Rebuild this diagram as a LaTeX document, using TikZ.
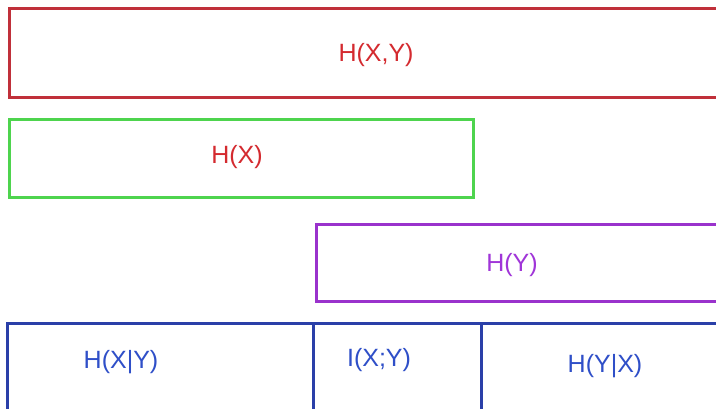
\documentclass[tikz,border=0pt]{standalone}
\usepackage{fontspec}
\setmainfont{Liberation Sans}
\definecolor{redline}{HTML}{C0303A}
\definecolor{redtext}{HTML}{D42A2F}
\definecolor{greenline}{HTML}{4ED44E}
\definecolor{purpleline}{HTML}{9A32CC}
\definecolor{purpletext}{HTML}{A035D8}
\definecolor{blueline}{HTML}{2A3FA8}
\definecolor{bluetext}{HTML}{2F4FC8}
\begin{document}
\begin{tikzpicture}[x=1pt,y=1pt,
  boxstyle/.style={line width=3pt},
  lbl/.style={font=\fontsize{25}{27}\selectfont, inner sep=0pt}]
\useasboundingbox (0,0) rectangle (716,409);
\clip (0,0) rectangle (716,409);
\fill[white] (0,0) rectangle (716,409);
% boxes
\draw[boxstyle, redline] (9,311) rectangle (717,400);
\draw[boxstyle, greenline] (9,211) rectangle (473,289);
\draw[boxstyle, purpleline] (316,107) rectangle (717,184);
\draw[boxstyle, blueline] (7,-20) rectangle (313,85);
\draw[boxstyle, blueline] (313,-20) rectangle (481,85);
\draw[boxstyle, blueline] (481,-20) rectangle (717,85);
% labels
\node[lbl, text=redtext] (hxy) at (376,354) {H(X,Y)};
\node[lbl, text=redtext] (hx) at (237,252) {H(X)};
\node[lbl, text=purpletext] (hy) at (512,144) {H(Y)};
\node[lbl, text=bluetext] (hxgy) at (121,47) {H(X|Y)};
\node[lbl, text=bluetext] (ixy) at (379,49) {I(X;Y)};
\node[lbl, text=bluetext] (hygx) at (605,43) {H(Y|X)};
\end{tikzpicture}
\end{document}
